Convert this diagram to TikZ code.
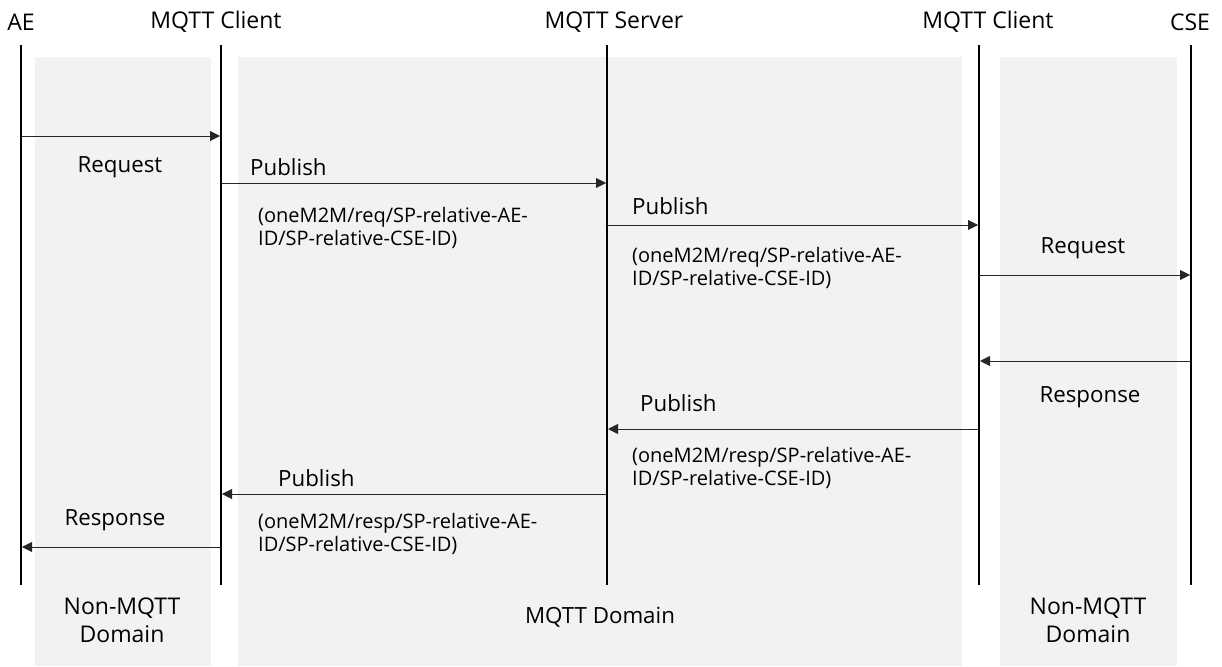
\documentclass[tikz,border=0pt]{standalone}
\usepackage{fontspec}
\setmainfont{Open Sans}
\usetikzlibrary{arrows.meta}
\definecolor{bgray}{HTML}{F2F2F2}
\definecolor{linec}{HTML}{262626}
\tikzset{
  x=1pt, y=-1pt,
  domainbg/.style={fill=bgray, draw=none},
  lifeline/.style={draw=black, line width=1.6pt},
  msgarrow/.style={draw=linec, line width=0.9pt, -{Triangle[length=10pt,width=10pt]}},
  headtext/.style={font=\fontsize{23}{26}\selectfont, inner sep=0pt},
  lbltext/.style={font=\fontsize{22.3}{26}\selectfont, inner sep=0pt},
  topictext/.style={font=\fontsize{20}{23}\selectfont, inner sep=0pt, align=left, anchor=west},
  domtext/.style={font=\fontsize{23}{28}\selectfont, inner sep=0pt, align=center}
}
\begin{document}
\begin{tikzpicture}
\useasboundingbox (0,0) rectangle (1222,666);
% domains
\fill[domainbg] (35,57) rectangle (211,666);
\fill[domainbg] (238,57) rectangle (962,666);
\fill[domainbg] (1000,57) rectangle (1177,666);
% headers
\node[headtext] (hae) at (21,22) {AE};
\node[headtext] (hc1) at (216,22) {MQTT Client};
\node[headtext] (hs) at (614,22) {MQTT Server};
\node[headtext] (hc2) at (988,22) {MQTT Client};
\node[headtext] (hcse) at (1190,22) {CSE};
% lifelines
\coordinate (ae-t) at (21,45);   \coordinate (ae-b) at (21,585);
\coordinate (c1-t) at (221,45);  \coordinate (c1-b) at (221,585);
\coordinate (s-t) at (607,45);   \coordinate (s-b) at (607,585);
\coordinate (c2-t) at (979,45);  \coordinate (c2-b) at (979,585);
\coordinate (cse-t) at (1191,45); \coordinate (cse-b) at (1191,585);
\draw[lifeline] (ae-t) -- (ae-b);
\draw[lifeline] (c1-t) -- (c1-b);
\draw[lifeline] (s-t) -- (s-b);
\draw[lifeline] (c2-t) -- (c2-b);
\draw[lifeline] (cse-t) -- (cse-b);
% message points
\coordinate (m1a) at (21,136);  \coordinate (m1b) at (220,136);
\coordinate (m2a) at (221,183); \coordinate (m2b) at (606,183);
\coordinate (m3a) at (607,225); \coordinate (m3b) at (978,225);
\coordinate (m4a) at (979,275); \coordinate (m4b) at (1190,275);
\coordinate (m5a) at (1191,361); \coordinate (m5b) at (980,361);
\coordinate (m6a) at (979,429); \coordinate (m6b) at (608,429);
\coordinate (m7a) at (607,494); \coordinate (m7b) at (222,494);
\coordinate (m8a) at (221,547); \coordinate (m8b) at (22,547);
\draw[msgarrow] (m1a) -- (m1b);
\draw[msgarrow] (m2a) -- (m2b);
\draw[msgarrow] (m3a) -- (m3b);
\draw[msgarrow] (m4a) -- (m4b);
\draw[msgarrow] (m5a) -- (m5b);
\draw[msgarrow] (m6a) -- (m6b);
\draw[msgarrow] (m7a) -- (m7b);
\draw[msgarrow] (m8a) -- (m8b);
% labels
\node[lbltext] (l1) at (120,167) {Request};
\node[lbltext, anchor=west] (l2) at (250,167) {Publish};
\node[topictext] (t2) at (258,228) {(oneM2M/req/SP-relative-AE-\\ID/SP-relative-CSE-ID)};
\node[lbltext, anchor=west] (l3) at (632,206) {Publish};
\node[topictext] (t3) at (632,268) {(oneM2M/req/SP-relative-AE-\\ID/SP-relative-CSE-ID)};
\node[lbltext] (l4) at (1083,248) {Request};
\node[lbltext] (l5) at (1090,397) {Response};
\node[lbltext, anchor=west] (l6) at (640,403) {Publish};
\node[topictext] (t6) at (632,468) {(oneM2M/resp/SP-relative-AE-\\ID/SP-relative-CSE-ID)};
\node[lbltext, anchor=west] (l7) at (278,478) {Publish};
\node[topictext] (t7) at (258,534) {(oneM2M/resp/SP-relative-AE-\\ID/SP-relative-CSE-ID)};
\node[lbltext] (l8) at (115,520) {Response};
% domain labels
\node[domtext] (d1) at (122,620) {Non-MQTT\\Domain};
\node[lbltext] (d2) at (600,617) {MQTT Domain};
\node[domtext] (d3) at (1088,620) {Non-MQTT\\Domain};
\end{tikzpicture}
\end{document}
